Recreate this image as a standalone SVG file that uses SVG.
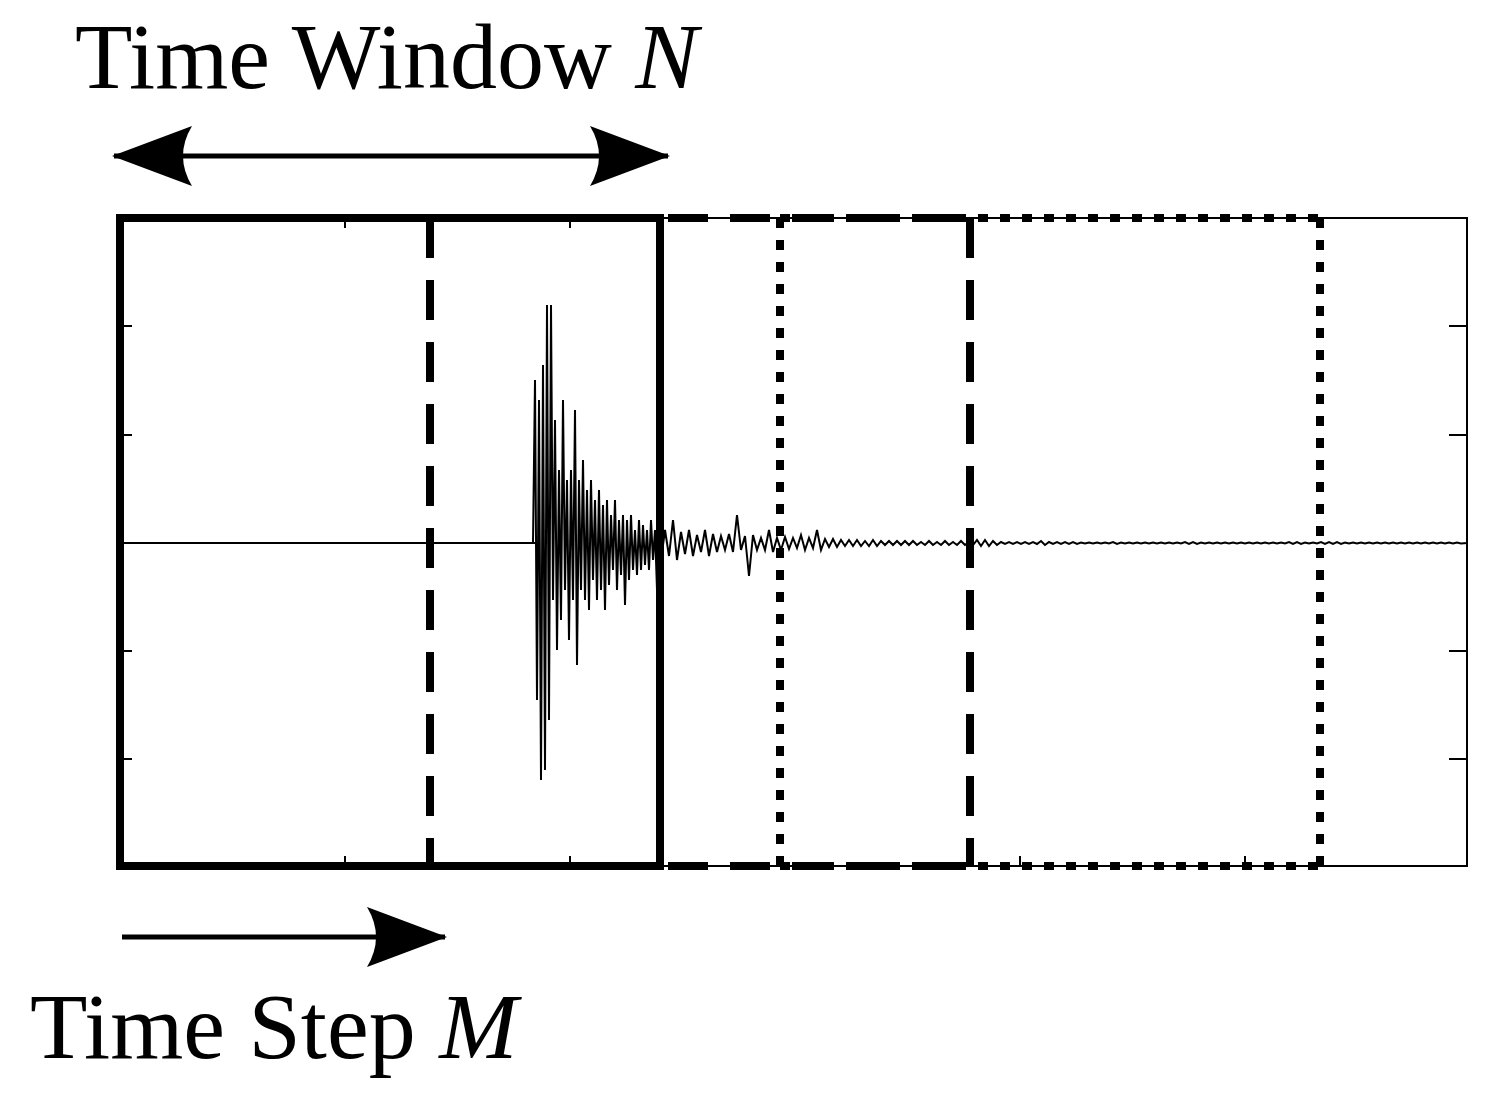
<svg xmlns="http://www.w3.org/2000/svg" width="1497" height="1095" viewBox="0 0 1497 1095">
<style>
.t{font-family:"Liberation Serif",serif;font-size:94px;fill:#000}
.k{stroke:#000;fill:none}
</style>
<defs>
<marker id="ah" viewBox="0 0 80 60" refX="78" refY="30" markerWidth="80" markerHeight="60" markerUnits="userSpaceOnUse" orient="auto-start-reverse">
<path d="M0,0 L80,30 L0,60 Q18,30 0,0Z" fill="#000"/>
</marker>
</defs>
<rect width="1497" height="1095" fill="#fff"/>
<g id="axes" class="k" stroke-width="2">
<rect x="120" y="218" width="1347" height="648"/>
<path d="M120,326h12M120,435h12M120,651h12M120,759h12M1467,326h-18M1467,435h-18M1467,651h-18M1467,759h-18M345,218v10M570,218v10M345,866v-10M570,866v-10M1020,866v-10M1245,866v-10"/>
<path d="M120,543H535" stroke-width="2"/>
</g>
<g id="signal" class="k" stroke-width="2">
<polyline points="533,543 535,380 537,700 539,400 541,780 543,365 545,770 547,305 549,720 551,305 553,600 555,420 557,650 559,470 561,620 563,400 565,590 567,480 569,640 571,470 573,600 575,410 577,665 579,480 581,590 583,460 585,600 587,490 589,610 591,480 593,580 595,500 597,600 599,490 601,590 603,505 605,610 607,500 609,585 611,515 613,570 615,500 617,590 619,520 621,575 623,515 625,605 627,520 629,580 631,515 633,570 635,530 637,575 639,520 641,570 643,525 645,565 647,530 649,570 651,520 653,560 655,530 657,590 659,515 661,560 665,530 669,556 673,520 677,560 681,532 685,554 689,530 693,556 697,535 701,552 705,530 709,556 713,534 717,552 721,536 725,550 729,534 733,552 737,515 741,550 745,536 749,576 753,535 757,550 761,538 765,550 769,530 773,552 777,538 781,550 785,537 789,549 793,538 797,548 801,535 805,550 809,538 813,548 817,530 821,550 825,539 829,547 833,539 837,547 841,540 845,546 849,540 853,546 857,540 861,546 865,541 869,546 873,540 877,546 881,541 885,545 889,541 893,545 897,541 901,545 905,541 909,545 913,541 917,545 921,542 925,545 929,541 933,545 937,542 941,545 945,541 949,545 953,542 957,545 961,541 965,545 969,542 973,545 977,540 981,546 985,540 989,546 993,541 997,545 1001,542 1005,544 1009,542 1013,544 1017,542 1021,544 1025,542 1029,544 1033,542 1037,544 1041,541 1045,545 1049,542 1053,544 1057,542 1061,544 1065,542 1069,544 1073,542 1077,544 1081,542.5 1085,543.5 1089,542.5 1093,543.5 1097,542.5 1101,543.5 1105,542.5 1109,543.5 1113,542 1117,544 1121,542.5 1125,543.5 1129,542.5 1133,543.5 1137,542.5 1141,543.5 1145,542.5 1149,543.5 1153,542.5 1157,543.5 1161,542.5 1165,543.5 1169,542.5 1173,543.5 1177,542.5 1181,543.5 1185,542 1189,544 1193,542 1197,544 1201,542.5 1205,543.5 1209,542.5 1213,543.5 1217,542.5 1221,543.5 1225,542.5 1229,543.5 1233,542.5 1237,543.5 1241,542.5 1245,543.5 1249,542.5 1253,543.5 1257,542.5 1261,543.5 1265,542.5 1269,543.5 1273,542.5 1277,543.5 1281,542.5 1285,543.5 1289,542 1293,544 1297,542 1301,544 1305,542.5 1309,543.5 1313,542.5 1317,543.5 1321,542 1325,544 1329,542 1333,544 1337,542 1341,544 1345,542.5 1349,543.5 1353,542.5 1357,543.5 1361,542.5 1365,543.5 1369,542.5 1373,543.5 1377,542.5 1381,543.5 1385,542.5 1389,543.5 1393,542.5 1397,543.5 1401,542.5 1405,543.5 1409,542.5 1413,543.5 1417,542.5 1421,543.5 1425,542.5 1429,543.5 1433,542.5 1437,543.5 1441,542.5 1445,543.5 1449,542.5 1453,543.5 1457,542.5 1461,543.5 1467,543"/>
</g>
<g id="window1" class="k" stroke-width="8">
<rect x="120" y="218" width="540" height="648"/>
</g>
<g id="window2" class="k" stroke-width="8" stroke-dasharray="40,22">
<path d="M668,218H970M668,866H970M430,218V866M970,218V866"/>
</g>
<g id="window3" class="k" stroke-width="8" stroke-dasharray="10,12">
<path d="M780,218H1320M780,866H1320M780,218V866M1320,218V866"/>
</g>
<g id="connectors" class="k" stroke-width="5">
<line x1="114" y1="156" x2="668" y2="156" marker-start="url(#ah)" marker-end="url(#ah)"/>
<line x1="122" y1="937" x2="445" y2="937" marker-end="url(#ah)"/>
</g>
<g id="labels">
<text class="t" x="75" y="88">Time Window <tspan font-style="italic">N</tspan></text>
<text class="t" x="30" y="1058">Time Step <tspan font-style="italic">M</tspan></text>
</g>
</svg>
